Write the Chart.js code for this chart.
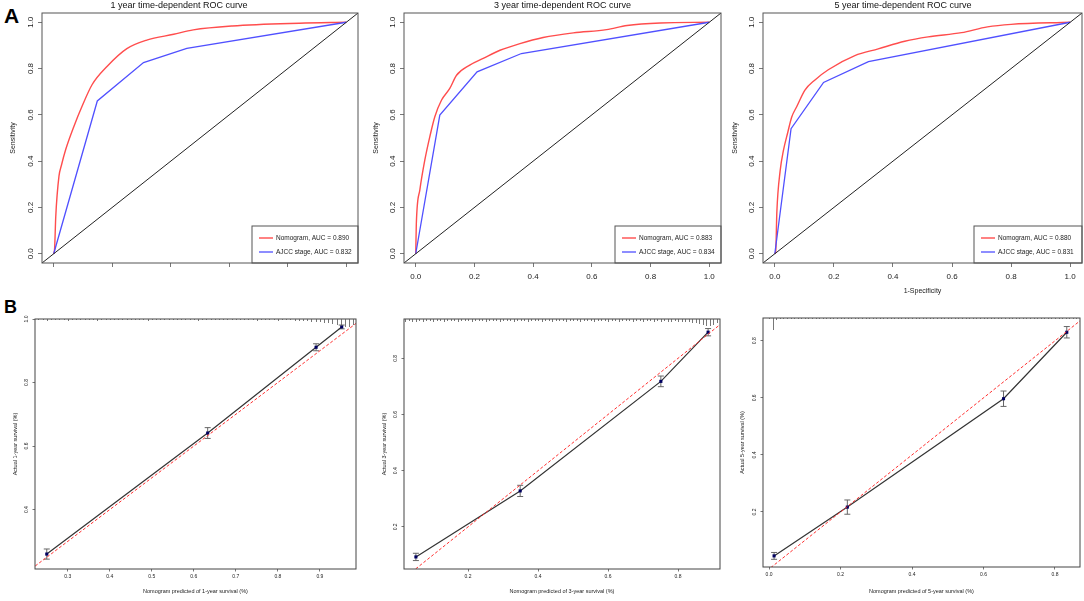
<!DOCTYPE html>
<html>
<head>
<meta charset="utf-8">
<script src="https://cdn.jsdelivr.net/npm/chart.js@4.4.0/dist/chart.umd.min.js"></script>
<style>
  body { margin: 0; background: #fff; width: 1084px; height: 601px; position: relative; overflow: hidden;
         font-family: "Liberation Sans", Arial, Helvetica, sans-serif; }
  canvas { position: absolute; }
  .tag { position: absolute; font-weight: bold; line-height: 1; color: #000; }
</style>
</head>
<body>
<div class="tag" style="left:4px;top:5px;font-size:21px">A</div>
<div class="tag" style="left:4px;top:298px;font-size:18px">B</div>
<canvas id="a1" width="360" height="300" style="left:0;top:0"></canvas>
<canvas id="a2" width="361" height="300" style="left:362px;top:0"></canvas>
<canvas id="a3" width="360" height="300" style="left:724px;top:0"></canvas>
<canvas id="b1" width="360" height="301" style="left:0;top:300px"></canvas>
<canvas id="b2" width="362" height="301" style="left:362px;top:300px"></canvas>
<canvas id="b3" width="360" height="301" style="left:724px;top:300px"></canvas>
<script>
// ---- ROC data (1 - specificity, sensitivity) ----
const aucNomogram = [0.890, 0.883, 0.880];
const aucAjcc = [0.832, 0.834, 0.831];

const nomo1Fpr = [0, 0.003, 0.007, 0.018, 0.026, 0.041, 0.069, 0.098, 0.131, 0.183, 0.25, 0.318, 0.41, 0.477, 0.61, 0.84, 1];
const nomo1Tpr = [0, 0.02, 0.16, 0.335, 0.38, 0.45, 0.55, 0.64, 0.73, 0.81, 0.886, 0.923, 0.948, 0.967, 0.984, 0.996, 1];
const ajcc1Fpr = [0, 0.149, 0.307, 0.455, 1];
const ajcc1Tpr = [0, 0.66, 0.826, 0.887, 1];

const nomo2Fpr = [0, 0.002, 0.014, 0.031, 0.048, 0.065, 0.088, 0.116, 0.139, 0.184, 0.23, 0.287, 0.355, 0.434, 0.537, 0.65, 0.72, 0.833, 1];
const nomo2Tpr = [0, 0.13, 0.276, 0.405, 0.506, 0.592, 0.664, 0.714, 0.771, 0.815, 0.844, 0.879, 0.908, 0.934, 0.954, 0.968, 0.986, 0.997, 1];
const ajcc2Fpr = [0, 0.082, 0.209, 0.36, 1];
const ajcc2Tpr = [0, 0.599, 0.786, 0.865, 1];

const nomo3Fpr = [0, 0.003, 0.007, 0.018, 0.029, 0.044, 0.057, 0.074, 0.102, 0.136, 0.181, 0.271, 0.35, 0.44, 0.519, 0.632, 0.72, 0.8, 1];
const nomo3Tpr = [0, 0.009, 0.183, 0.358, 0.445, 0.525, 0.59, 0.635, 0.707, 0.751, 0.795, 0.856, 0.885, 0.918, 0.937, 0.955, 0.98, 0.991, 1];
const ajcc3Fpr = [0, 0.055, 0.165, 0.317, 1];
const ajcc3Tpr = [0, 0.54, 0.74, 0.83, 1];

const rocLim = [-0.04, 1.04];

// ---- calibration data ----
const cal1Pred = [0.25, 0.633, 0.891, 0.952];
const cal1Obs = [0.26, 0.641, 0.911, 0.975];
const cal1Err = [0.016, 0.017, 0.011, 0.006];
const cal1XLim = [0.222, 0.986];
const cal1YLim = [0.213, 1.0];

const cal2Pred = [0.051, 0.349, 0.751, 0.886];
const cal2Obs = [0.093, 0.328, 0.718, 0.893];
const cal2Err = [0.013, 0.02, 0.019, 0.013];
const cal2XLim = [0.017, 0.92];
const cal2YLim = [0.05, 0.94];

const cal3Pred = [0.014, 0.219, 0.656, 0.833];
const cal3Obs = [0.046, 0.217, 0.597, 0.83];
const cal3Err = [0.012, 0.025, 0.027, 0.02];
const cal3XLim = [-0.017, 0.87];
const cal3YLim = [0.007, 0.88];

// rug of predicted values (bins of 0.01)
const rug1Start = 0.23;
const rug1Counts = [1,1,2,1,1,1,1,2,1,1, 1,1,1,1,2,1,1,1,1,1, 1,1,1,1,1,1,2,1,1,1, 1,1,1,1,1,1,1,1,2,1,
  1,1,1,1,1,1,1,1,1,1, 1,1,2,1,1,1,1,2,1,1, 1,2, 2,2,2,3,3,3,4,4,5,6,7,8,8,6];
const rug2Start = 0.02;
const rug2Counts = [3,2,3,3,2,3,2,2,3,2, 2,3,2,2,2,3,2,2,2,3, 2,2,2,3,2,2,2,3,2,2, 2,3,2,2,2,3,2,2,2,3,
  2,2,3,2,2,2,3,2,2,2, 3,2,2,2,3,2,2,2,3,2, 2,3,2,2,2,3,2,2,3,2, 2,3,2,3,2,3,3,2,3,3, 3,3,4,4,5,6,7,7,6,4];
const rug3Start = 0.0;
const rug3Counts = [1,12,2,1,1,1,1,1,1,1, 1,1,1,1,1,1,1,1,1,1, 1,1,1,1,1,1,1,1,1,1, 1,1,1,1,1,1,1,1,1,1,
  1,1,1,1,1,1,1,1,1,1, 1,1,1,1,1,1,1,1,1,1, 1,1,1,1,1,1,1,1,1,1, 1,1,1,1,1,1,1,1,1,1, 1,1,1,1,1,1,1];
const rugStep = 0.01;

// ---- styles ----
const FONT = '"Liberation Sans", Arial, Helvetica, sans-serif';
const RED = '#ff4d4d';
const BLUE = '#5050ff';
Chart.defaults.font.family = FONT;
Chart.defaults.color = '#222';

function pts(xs, ys) { return xs.map((x, i) => ({ x, y: ys[i] })); }

const rBox = {
  id: 'rBox',
  afterDraw(chart, args, o) {
    const c = chart.chartArea, ctx = chart.ctx;
    ctx.save();
    ctx.strokeStyle = o.color || '#555';
    ctx.lineWidth = 1;
    ctx.strokeRect(c.left, c.top, c.right - c.left, c.bottom - c.top);
    ctx.restore();
  }
};

const rYLabels = {
  id: 'rYLabels',
  afterDraw(chart, args, o) {
    const ys = chart.scales.y, ctx = chart.ctx, x0 = chart.chartArea.left - o.offset;
    ctx.save();
    ctx.fillStyle = '#222';
    ctx.font = o.size + 'px ' + FONT;
    ctx.textAlign = 'center';
    ctx.textBaseline = 'middle';
    ys.ticks.forEach(t => {
      ctx.save();
      ctx.translate(x0, ys.getPixelForValue(t.value));
      ctx.rotate(-Math.PI / 2);
      ctx.fillText(t.value.toFixed(1), 0, 0);
      ctx.restore();
    });
    ctx.restore();
  }
};

const rLegend = {
  id: 'rLegend',
  afterDatasetsDraw(chart, args, o) {
    if (!o.show) return;
    const c = chart.chartArea, ctx = chart.ctx;
    const items = chart.data.datasets.filter(d => d.legendOrder).sort((a, b) => a.legendOrder - b.legendOrder);
    const x0 = c.right - o.width, y0 = c.bottom - o.height;
    ctx.save();
    ctx.fillStyle = '#fff';
    ctx.fillRect(x0, y0, o.width, o.height);
    ctx.strokeStyle = '#555';
    ctx.lineWidth = 1;
    ctx.strokeRect(x0, y0, o.width, o.height);
    ctx.font = o.size + 'px ' + FONT;
    ctx.textBaseline = 'middle';
    ctx.textAlign = 'left';
    items.forEach((d, i) => {
      const yy = y0 + 12 + i * 14;
      ctx.strokeStyle = d.borderColor;
      ctx.lineWidth = d.borderWidth;
      ctx.beginPath();
      ctx.moveTo(x0 + 7, yy);
      ctx.lineTo(x0 + 21, yy);
      ctx.stroke();
      ctx.fillStyle = '#222';
      ctx.fillText(d.label, x0 + 24, yy);
    });
    ctx.restore();
  }
};

const rErr = {
  id: 'rErr',
  beforeDatasetsDraw(chart) {
    const xs = chart.scales.x, ys = chart.scales.y, ctx = chart.ctx;
    ctx.save();
    ctx.strokeStyle = '#666';
    ctx.lineWidth = 1;
    chart.data.datasets.forEach(d => {
      if (!d.err) return;
      d.data.forEach((p, i) => {
        const px = xs.getPixelForValue(p.x);
        const top = ys.getPixelForValue(p.y + d.err[i]);
        const bot = ys.getPixelForValue(p.y - d.err[i]);
        ctx.beginPath();
        ctx.moveTo(px, top); ctx.lineTo(px, bot);
        ctx.moveTo(px - 3, top); ctx.lineTo(px + 3, top);
        ctx.moveTo(px - 3, bot); ctx.lineTo(px + 3, bot);
        ctx.stroke();
      });
    });
    ctx.restore();
  }
};

const rRug = {
  id: 'rRug',
  afterDraw(chart, args, o) {
    if (!o.counts) return;
    const xs = chart.scales.x, top = chart.chartArea.top, ctx = chart.ctx;
    ctx.save();
    ctx.strokeStyle = '#555';
    ctx.lineWidth = 0.8;
    ctx.beginPath();
    o.counts.forEach((n, i) => {
      const px = Math.round(xs.getPixelForValue(o.start + i * o.step)) + 0.5;
      ctx.moveTo(px, top);
      ctx.lineTo(px, top + n);
    });
    ctx.stroke();
    ctx.restore();
  }
};

function axis(lim, step, o) {
  return {
    type: 'linear',
    min: lim[0],
    max: lim[1],
    ticks: {
      stepSize: step, includeBounds: false, display: !!o.labels, padding: o.pad || 0,
      color: '#222', font: { size: o.size }, maxRotation: 0,
      callback: v => v.toFixed(1)
    },
    grid: { drawOnChartArea: false, drawTicks: true, tickLength: o.tl, tickColor: '#555', tickWidth: 0.8 },
    border: { display: false },
    title: o.title
      ? { display: true, text: o.title, font: { size: o.tsize }, color: '#222', padding: o.tpad }
      : { display: false },
    afterFit: s => { if (s.isHorizontal()) s.height = o.fit; else s.width = o.fit; }
  };
}

function rocChart(id, p) {
  new Chart(document.getElementById(id), {
    type: 'scatter',
    data: {
      datasets: [
        { label: 'reference', data: pts(rocLim, rocLim), showLine: true, borderColor: '#222', borderWidth: 1, pointRadius: 0 },
        { label: 'AJCC stage, AUC = ' + p.aucA.toFixed(3), legendOrder: 2, data: pts(p.ax, p.ay),
          showLine: true, borderColor: BLUE, borderWidth: 1.3, pointRadius: 0 },
        { label: 'Nomogram, AUC = ' + p.aucN.toFixed(3), legendOrder: 1, data: pts(p.nx, p.ny),
          showLine: true, borderColor: RED, borderWidth: 1.4, pointRadius: 0, cubicInterpolationMode: 'monotone' }
      ]
    },
    options: {
      responsive: false,
      animation: false,
      layout: { padding: { top: 0, right: 2, bottom: 0, left: 0 } },
      plugins: {
        legend: { display: false },
        tooltip: { enabled: false },
        title: { display: true, text: p.title, fullSize: p.fullTitle, color: '#111',
                 font: { size: 9, weight: 'normal' }, padding: { top: 0, bottom: 2.2 } },
        rBox: { color: '#555' },
        rYLabels: { offset: 11, size: 8 },
        rLegend: { show: true, width: p.legW, height: 37, size: 6.5 }
      },
      scales: {
        x: axis(rocLim, 0.2, { labels: p.xLabels, size: 8, tl: 4, pad: 4.7, fit: 37,
                               title: p.xTitle, tsize: 7, tpad: { top: 0, bottom: 4.8 } }),
        y: axis(rocLim, 0.2, { labels: false, size: 8, tl: 4, fit: p.yFit,
                               title: 'Sensitivity', tsize: 7, tpad: { top: p.yTitlePad, bottom: 0 } })
      }
    },
    plugins: [rBox, rYLabels, rLegend]
  });
}

function calChart(id, p) {
  const lo = Math.min(p.xLim[0], p.yLim[0]), hi = Math.max(p.xLim[1], p.yLim[1]);
  new Chart(document.getElementById(id), {
    type: 'scatter',
    data: {
      datasets: [
        { label: 'ideal', data: pts([lo, hi], [lo, hi]), showLine: true, borderColor: '#ff3030',
          borderWidth: 1, borderDash: [3, 2], pointRadius: 0 },
        { label: 'observed', data: pts(p.pred, p.obs), err: p.err, showLine: true, borderColor: '#333',
          borderWidth: 1.2, pointStyle: 'rect', pointRadius: 2.2, pointBackgroundColor: '#000060',
          pointBorderColor: '#000060', pointBorderWidth: 0 }
      ]
    },
    options: {
      responsive: false,
      animation: false,
      layout: { padding: { top: p.top, right: p.padR, bottom: 0, left: 0 } },
      plugins: {
        legend: { display: false },
        tooltip: { enabled: false },
        rBox: { color: '#444' },
        rYLabels: { offset: 8.5, size: 5 },
        rRug: { start: p.rugStart, step: rugStep, counts: p.rug }
      },
      scales: {
        x: axis(p.xLim, p.xStep, { labels: true, size: 5, tl: 2.5, pad: 2.5, fit: p.xFit,
                                   title: p.xTitle, tsize: 5.5, tpad: { top: 0, bottom: 6.7 } }),
        y: axis(p.yLim, 0.2, { labels: false, size: 5, tl: 2.5, fit: p.yFit,
                               title: p.yTitle, tsize: 5.5, tpad: { top: p.yTitlePad, bottom: 0 } })
      }
    },
    plugins: [rBox, rYLabels, rErr, rRug]
  });
}

rocChart('a1', { title: '1 year time-dependent ROC curve', fullTitle: true, xLabels: false, xTitle: '',
  nx: nomo1Fpr, ny: nomo1Tpr, ax: ajcc1Fpr, ay: ajcc1Tpr, aucN: aucNomogram[0], aucA: aucAjcc[0],
  yFit: 42, yTitlePad: 8.8, legW: 106 });
rocChart('a2', { title: '3 year time-dependent ROC curve', fullTitle: false, xLabels: true, xTitle: '',
  nx: nomo2Fpr, ny: nomo2Tpr, ax: ajcc2Fpr, ay: ajcc2Tpr, aucN: aucNomogram[1], aucA: aucAjcc[1],
  yFit: 42, yTitlePad: 9.8, legW: 106 });
rocChart('a3', { title: '5 year time-dependent ROC curve', fullTitle: true, xLabels: true, xTitle: '1-Specificity',
  nx: nomo3Fpr, ny: nomo3Tpr, ax: ajcc3Fpr, ay: ajcc3Tpr, aucN: aucNomogram[2], aucA: aucAjcc[2],
  yFit: 39, yTitlePad: 6.8, legW: 108 });

calChart('b1', { pred: cal1Pred, obs: cal1Obs, err: cal1Err, xLim: cal1XLim, yLim: cal1YLim, xStep: 0.1,
  rug: rug1Counts, rugStart: rug1Start, top: 19, padR: 4, xFit: 32, yFit: 35, yTitlePad: 11.7,
  xTitle: 'Nomogram predicted of 1-year survival (%)', yTitle: 'Actual 1-year survival (%)' });
calChart('b2', { pred: cal2Pred, obs: cal2Obs, err: cal2Err, xLim: cal2XLim, yLim: cal2YLim, xStep: 0.2,
  rug: rug2Counts, rugStart: rug2Start, top: 19, padR: 4, xFit: 32, yFit: 42, yTitlePad: 18.7,
  xTitle: 'Nomogram predicted of 3-year survival (%)', yTitle: 'Actual 3-year survival (%)' });
calChart('b3', { pred: cal3Pred, obs: cal3Obs, err: cal3Err, xLim: cal3XLim, yLim: cal3YLim, xStep: 0.2,
  rug: rug3Counts, rugStart: rug3Start, top: 18, padR: 2, xFit: 34, yFit: 39, yTitlePad: 15.4,
  xTitle: 'Nomogram predicted of 5-year survival (%)', yTitle: 'Actual 5-year survival (%)' });
</script>
</body>
</html>
